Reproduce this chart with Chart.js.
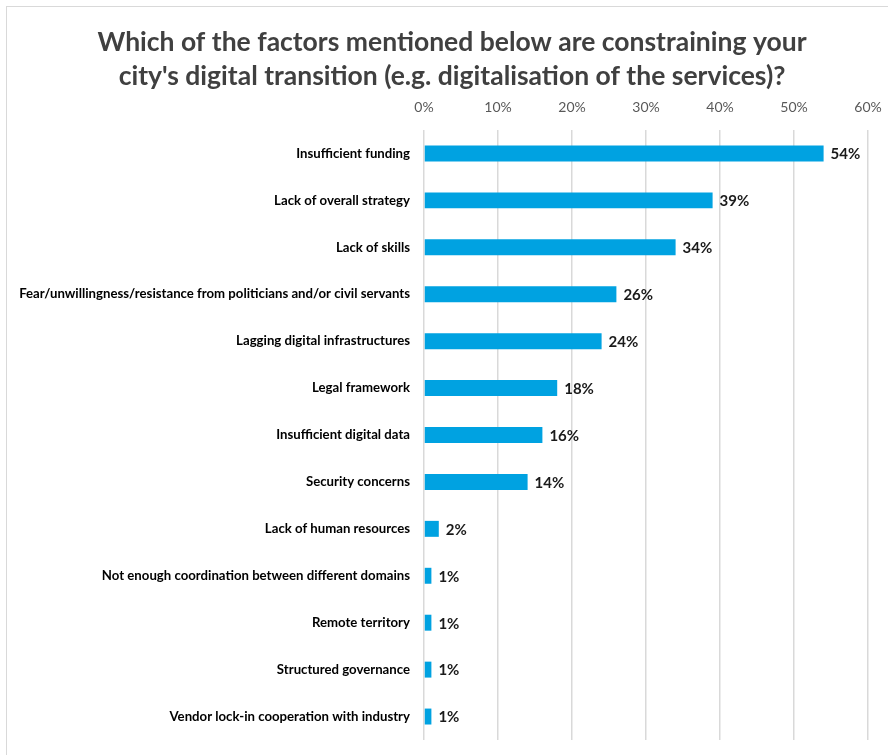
<!DOCTYPE html>
<html>
<head>
<meta charset="utf-8">
<script src="https://cdn.jsdelivr.net/npm/chart.js@4.4.1/dist/chart.umd.min.js"></script>
<style>
  html, body { margin: 0; padding: 0; background: #fff; overflow: hidden; }
  #wrap { position: relative; width: 888px; height: 755px; }
  #frame { position: absolute; left: 6px; top: 6px; width: 920px; height: 800px;
           border: 1.5px solid #d9d9d9; box-sizing: border-box; }
  canvas { position: absolute; left: 0; top: 0; }
</style>
</head>
<body>
<div id="wrap">
  <div id="frame"></div>
  <canvas id="chart" width="888" height="755"></canvas>
</div>
<script>
// Survey factors and share of cities naming each one (%)
const categories = [
  "Insufficient funding",
  "Lack of overall strategy",
  "Lack of skills",
  "Fear/unwillingness/resistance from politicians and/or civil servants",
  "Lagging digital infrastructures",
  "Legal framework",
  "Insufficient digital data",
  "Security concerns",
  "Lack of human resources",
  "Not enough coordination between different domains",
  "Remote territory",
  "Structured governance",
  "Vendor lock-in cooperation with industry"
];
const shares = [54, 39, 34, 26, 24, 18, 16, 14, 2, 1, 1, 1, 1];
const titleLines = [
  "Which of the factors mentioned below are constraining your",
  "city's digital transition (e.g. digitalisation of the services)?"
];

const FONT = "Lato, 'Liberation Sans', sans-serif";
const TITLE_TOP = 92;   // space kept above the axis for the two-line heading

// Two-line heading, centred over the framed panel
const heading = {
  id: 'heading',
  afterDraw(chart) {
    const ctx = chart.ctx;
    ctx.save();
    ctx.font = "bold 26.5px " + FONT;
    ctx.fillStyle = "#404040";
    ctx.textAlign = "center";
    ctx.textBaseline = "middle";
    titleLines.forEach((line, i) => ctx.fillText(line, 452, 42 + i * 34));
    ctx.restore();
  }
};

// Writes the percentage just past the end of each bar
const valueLabels = {
  id: 'valueLabels',
  afterDatasetsDraw(chart) {
    const ctx = chart.ctx;
    const meta = chart.getDatasetMeta(0);
    ctx.save();
    ctx.font = "bold 15px " + FONT;
    ctx.fillStyle = "#1a1a1a";
    ctx.textAlign = "left";
    ctx.textBaseline = "middle";
    meta.data.forEach((bar, i) => {
      ctx.fillText(shares[i] + "%", bar.x + 7, bar.y + 1);
    });
    ctx.restore();
  }
};

new Chart(document.getElementById('chart'), {
  type: 'bar',
  data: {
    labels: categories,
    datasets: [{
      data: shares,
      backgroundColor: '#00a2e1',
      borderWidth: 0,
      barPercentage: 0.34,
      categoryPercentage: 1
    }]
  },
  plugins: [valueLabels, heading],
  options: {
    indexAxis: 'y',
    responsive: false,
    animation: false,
    layout: { padding: { left: 0, right: 20, top: TITLE_TOP, bottom: 15 } },
    plugins: {
      legend: { display: false },
      tooltip: { enabled: false },
      title: { display: false }
    },
    scales: {
      x: {
        position: 'top',
        min: 0,
        max: 60,
        ticks: {
          stepSize: 10,
          color: '#595959',
          padding: 14,
          font: { family: FONT, size: 14 },
          callback: v => v + '%'
        },
        grid: { color: '#d9d9d9', lineWidth: 1.5, drawTicks: false },
        border: { display: false },
        afterFit(scale) {
          scale.height = 38;
          scale.paddingRight = 0;
        }
      },
      y: {
        ticks: {
          color: '#000000',
          padding: 14,
          autoSkip: false,
          font: { family: FONT, size: 13.2, weight: 'bold' }
        },
        grid: { display: false, drawTicks: false },
        border: { display: false },
        afterFit(scale) {
          scale.width = 424;
          scale.paddingTop = 0;
          scale.paddingBottom = 0;
        }
      }
    }
  }
});
</script>
</body>
</html>
